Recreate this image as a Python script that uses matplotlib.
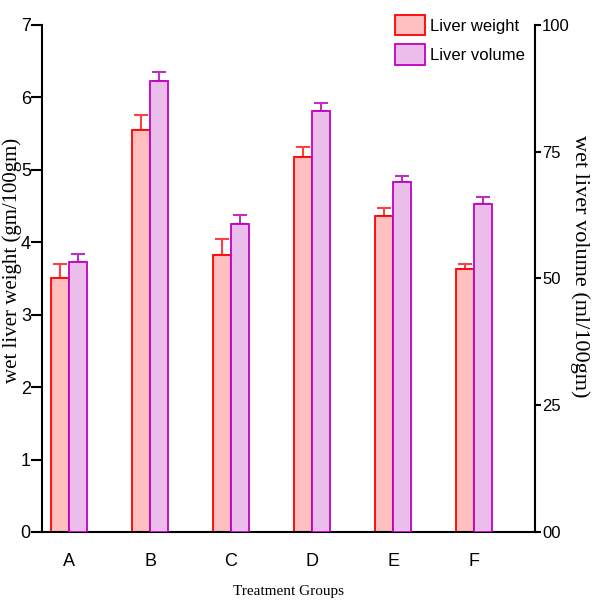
import numpy as np
import matplotlib.pyplot as plt
from matplotlib.patches import Patch

groups = ['A', 'B', 'C', 'D', 'E', 'F']
liver_weight = [3.50, 5.55, 3.82, 5.18, 4.36, 3.63]
weight_err = [0.20, 0.21, 0.22, 0.14, 0.11, 0.07]
liver_volume = [53.3, 89.0, 60.7, 83.1, 69.1, 64.7]
volume_err = [1.5, 1.8, 1.8, 1.5, 1.2, 1.4]
right_ticks = [0, 25, 50, 75, 100]
right_labels = ['00', '25', '50', '75', '100']

w_face, w_edge = '#ffbfbf', '#ff0000'
v_face, v_edge = '#ebbdeb', '#c000c0'

fig = plt.figure(figsize=(5.98, 6.02), dpi=100)
ax = fig.add_axes([0.0702, 0.1163, 0.8244, 0.8422])
ax2 = ax.twinx()

x = np.arange(len(groups))
bw = 0.222

ax.bar(x - bw / 2, liver_weight, bw, color=w_face, edgecolor=w_edge, linewidth=1.3, zorder=2)
ax.errorbar(x - bw / 2, liver_weight, yerr=[np.zeros(6), weight_err], fmt='none',
            ecolor='#ff4040', elinewidth=1.5, capsize=5, capthick=1.5, zorder=1)
ax2.bar(x + bw / 2, liver_volume, bw, color=v_face, edgecolor=v_edge, linewidth=1.3, zorder=2)
ax2.errorbar(x + bw / 2, liver_volume, yerr=[np.zeros(6), volume_err], fmt='none',
             ecolor='#c030c0', elinewidth=1.5, capsize=5, capthick=1.5, zorder=1)

ax.set_xlim(-0.333, 5.75)
ax.set_ylim(0, 7)
ax2.set_ylim(0, 100)

for a in (ax, ax2):
    a.spines['top'].set_visible(False)
    for s in a.spines.values():
        s.set_linewidth(1.5)
ax.spines['right'].set_visible(False)
ax2.spines['left'].set_visible(False)
ax2.spines['bottom'].set_visible(False)

ax.set_xticks(x)
ax.set_xticklabels(groups, fontsize=13, family='Liberation Sans')
ax.tick_params(axis='x', length=0, pad=15)
ax.set_yticks(range(8))
ax.tick_params(axis='y', length=8, width=1.5, labelsize=13, pad=0)
for t in ax.get_yticklabels():
    t.set_family('Liberation Sans')

ax2.set_yticks(right_ticks)
ax2.set_yticklabels(right_labels, fontsize=12, family='Liberation Sans')
ax2.tick_params(axis='y', length=4, width=1.5, pad=1)

ax.set_ylabel('wet liver weight (gm/100gm)', fontsize=15, family='Liberation Serif')
ax2.set_ylabel('wet liver volume (ml/100gm)', fontsize=16, family='Liberation Serif',
               rotation=270)
ax2.yaxis.set_label_coords(1.112, 0.525)
ax.yaxis.set_label_coords(-0.041, 0.535)
ax.set_xlabel('Treatment Groups', fontsize=11, family='Liberation Serif')
ax.xaxis.set_label_coords(0.5, -0.105)

handles = [Patch(facecolor=w_face, edgecolor=w_edge, linewidth=1.3),
           Patch(facecolor=v_face, edgecolor=v_edge, linewidth=1.3)]
fig.legend(handles, ['Liver weight', 'Liver volume'], loc='upper left',
           bbox_to_anchor=(0.635, 1.0), frameon=False, handlelength=1.8, handleheight=1.5,
           handletextpad=0.3, labelspacing=0.55, prop={'family': 'Liberation Sans', 'size': 12})

fig.savefig('out.png', dpi=100)
